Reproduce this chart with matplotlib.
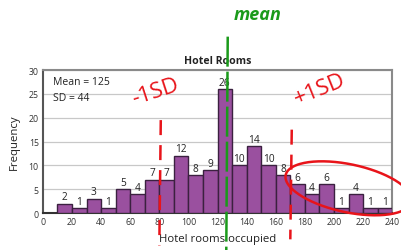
import matplotlib
matplotlib.use("Agg")
import matplotlib.pyplot as plt
import numpy as np

bin_left = [10, 20, 30, 40, 50, 60, 70, 80, 90, 100, 110, 120, 130, 140, 150, 160, 170, 180, 190, 200, 210, 220, 230]
freq = [2, 1, 3, 1, 5, 4, 7, 7, 12, 8, 9, 26, 10, 14, 10, 8, 6, 4, 6, 1, 4, 1, 1]
mean_val = 125
sd_val = 44
x_ticks = [0, 20, 40, 60, 80, 100, 120, 140, 160, 180, 200, 220, 240]
y_ticks = [0, 5, 10, 15, 20, 25, 30]

plt.rcParams['font.family'] = ['Open Sans', 'DejaVu Sans']

fig = plt.figure(figsize=(4.01, 2.51), dpi=100)
ax = fig.add_axes([0.107, 0.147, 0.871, 0.570])

ax.bar(bin_left, freq, width=10, align='edge', color='#9a509f',
       edgecolor='#3b2140', linewidth=1.0, zorder=3)
for xl, f in zip(bin_left, freq):
    ax.text(xl + 5, f + 0.3, str(f), ha='center', va='bottom', fontsize=7.3, color='#222222', zorder=4)

ax.set_xlim(0, 240)
ax.set_ylim(0, 30)
ax.set_xticks(x_ticks)
ax.set_yticks(y_ticks)
ax.tick_params(axis='both', length=0, labelsize=6.3, pad=3, colors='#333333')
ax.yaxis.grid(True, color='#c8c8c8', linewidth=0.9, zorder=0)
for s in ax.spines.values():
    s.set_color('#8a8a8a')
    s.set_linewidth(1.5)
ax.spines['left'].set_color('#555555')
ax.spines['bottom'].set_color('#333333')

ax.set_title('Hotel Rooms', fontsize=7.6, fontweight='bold', pad=5, color='#222222')
ax.set_xlabel('Hotel rooms occupied', fontsize=8.2, labelpad=5, color='#222222')
ax.set_ylabel('Frequency', fontsize=8.2, labelpad=6, color='#222222')

ax.text(7, 27.5, 'Mean = %d' % mean_val, fontsize=7.5, va='center', ha='left', color='#222222')
ax.text(7, 24.3, 'SD = %d' % sd_val, fontsize=7.5, va='center', ha='left', color='#222222')

# hand-drawn style annotations
ax.plot([mean_val + 2, mean_val + 1], [37, -8], color='#1a9a1a', lw=1.8,
        ls=(0, (12, 2)), clip_on=False, zorder=6)
fig.text(0.643, 0.94, 'mean', color='#1a9a1a', fontsize=13, fontweight='bold',
         ha='center', va='center', style='italic')

ax.plot([mean_val - sd_val, mean_val - sd_val - 1], [19.5, -6.8], color='#e8141a', lw=1.8,
        ls=(0, (6, 4)), clip_on=False, zorder=6)
ax.plot([mean_val + sd_val + 2, mean_val + sd_val + 1], [17.5, -5.5], color='#e8141a', lw=1.8,
        ls=(0, (6, 4)), clip_on=False, zorder=6)
ax.text(mean_val - sd_val - 4, 25.5, '-1SD', color='#e8141a', fontsize=16, rotation=18,
        ha='center', va='center', zorder=6)
ax.text(mean_val + sd_val + 21, 26, '+1SD', color='#e8141a', fontsize=16, rotation=22,
        ha='center', va='center', zorder=6)

# ellipse drawn in pixel-like proportions, converted to data units
t = np.linspace(0, 2 * np.pi, 200)
phi = np.deg2rad(-12)
a_px, b_px = 64, 24
px_per_x, px_per_y = 1.45, 4.77
ex = 210 + (a_px * np.cos(t) * np.cos(phi) - b_px * np.sin(t) * np.sin(phi)) / px_per_x
ey = 5.2 + (a_px * np.cos(t) * np.sin(phi) + b_px * np.sin(t) * np.cos(phi)) / px_per_y
ax.plot(ex, ey, color='#e8141a', lw=1.8, clip_on=False, zorder=6)

fig.savefig('out.png', dpi=100)
